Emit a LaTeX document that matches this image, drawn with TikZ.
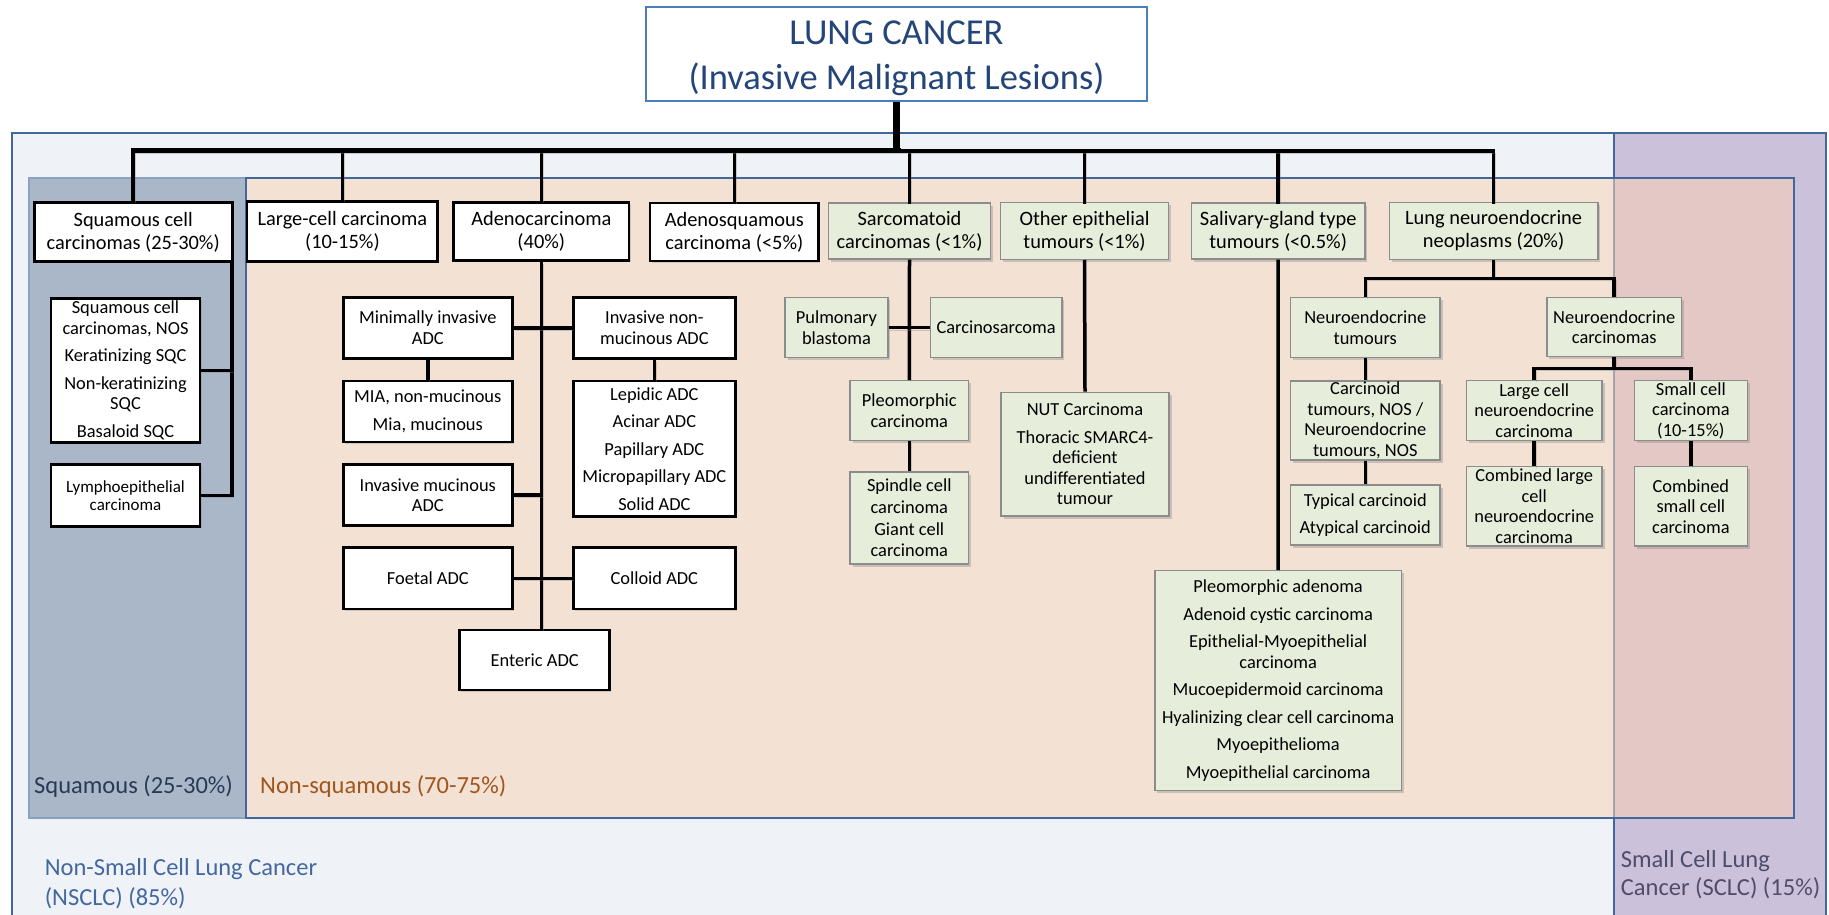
\documentclass[tikz,border=0pt]{standalone}
\usepackage{fontspec}
\setmainfont{Carlito}
\usetikzlibrary{shadows}

\definecolor{nsclcfill}{HTML}{EFF3F8}
\definecolor{regionedge}{HTML}{41689C}
\definecolor{sclcfill}{HTML}{CBC1DA}
\definecolor{sqfill}{HTML}{A9B7C8}
\definecolor{sqedge}{HTML}{8AA1BF}
\definecolor{nsqfill}{HTML}{F3E1D4}
\definecolor{overlapfill}{HTML}{E4C8C6}
\definecolor{overlapedge}{HTML}{A4A4AC}
\definecolor{boxgreen}{HTML}{E6EDDA}
\definecolor{boxgrey}{HTML}{8C8C8C}
\definecolor{titleblue}{HTML}{24457A}
\definecolor{titleedge}{HTML}{4A7EBB}
\definecolor{sqtext}{HTML}{2A3A55}
\definecolor{nsqtext}{HTML}{A0561D}
\definecolor{nscltext}{HTML}{4467A0}
\definecolor{scltext}{HTML}{504C6C}

\newcommand\txTitle{\fontsize{36.5}{45}\selectfont}
\newcommand\txTop{\fontsize{20.4}{23}\selectfont}
\newcommand\txSub{\fontsize{18.4}{20.5}\selectfont}
\newcommand\txSmall{\fontsize{17}{18.5}\selectfont}
\newcommand\txLab{\fontsize{24.5}{30}\selectfont}

\tikzset{
  sz/.style 2 args={minimum width=#1, minimum height=#2},
  wtop/.style={draw=black, line width=2.8pt, fill=white, align=center, inner sep=0pt,
    font=\txTop, drop shadow={shadow xshift=1.5pt, shadow yshift=-1.5pt, opacity=0.3}},
  wsub/.style={wtop, font=\txSub},
  gtop/.style={draw=boxgrey, line width=1.4pt, fill=boxgreen, align=center, inner sep=0pt,
    font=\txTop, drop shadow={shadow xshift=2.5pt, shadow yshift=-2.5pt, opacity=0.35}},
  gsub/.style={gtop, font=\txSub},
  lineshadow/.style={preaction={draw=black!50, opacity=0.35,
    transform canvas={xshift=1.5pt, yshift=-2pt}}},
  conn/.style={line width=3.5pt, black, lineshadow},
  region/.style={line width=2.5pt, draw=regionedge},
  lab/.style={font=\txLab, anchor=west, inner sep=0pt, align=left}
}

\begin{document}
\begin{tikzpicture}[x=1pt, y=-1pt]
\useasboundingbox (0,0) rectangle (1829,915);
\clip (0,0) rectangle (1829,915);
\fill[white] (0,0) rectangle (1829,915);

% ---- classification regions ----
\draw[region, fill=nsclcfill] (12,133) rectangle (1614,940);
\draw[region, fill=sclcfill] (1614,133) rectangle (1826,940);
\draw[fill=sqfill, draw=sqedge, line width=2pt] (29,178) rectangle (246,818);
\fill[nsqfill] (246,178) rectangle (1794,818);
\fill[overlapfill] (1614,178) rectangle (1794,818);
\draw[overlapedge, line width=2.5pt] (1614,178) -- (1614,818);
\draw[region] (246,178) rectangle (1794,818);

% ---- region labels ----
\node[lab, text=sqtext] (sqlab) at (34,787) {Squamous (25-30\%)};
\node[lab, text=nsqtext] (nsqlab) at (260,787) {Non-squamous (70-75\%)};
\node[lab, text=nscltext] (nsclab) at (44.6,884) {Non-Small Cell Lung Cancer\\(NSCLC) (85\%)};
\node[lab, text=scltext, font=\fontsize{24.5}{28}\selectfont] (sclclab) at (1620.7,875) {Small Cell Lung\\Cancer (SCLC) (15\%)};

% ---- title ----
\node[draw=titleedge, line width=2.5pt, fill=white, text=titleblue, font=\txTitle,
  align=center, inner sep=0pt, sz={501}{94}] (title) at (896.5,54)
  {\rule{0pt}{33pt}LUNG CANCER\\(Invasive Malignant Lesions)};

% ---- main categories ----
\node[wtop, sz={198}{59}]   (sq)   at (133.2,232.2) {Squamous cell\\carcinomas (25-30\%)};
\node[wtop, sz={190.7}{60}] (lcc)  at (342.4,231.7) {Large-cell carcinoma\\(10-15\%)};
\node[wtop, sz={175.5}{58}] (adc)  at (541.3,231.7) {Adenocarcinoma\\(40\%)};
\node[wtop, sz={168.5}{58}] (asq)  at (734.3,232)   {Adenosquamous\\carcinoma (<5\%)};
\node[gtop, sz={162}{56}]   (sarc) at (909.5,231)   {Sarcomatoid\\carcinomas (<1\%)};
\node[gtop, sz={167.7}{56.6}] (oth) at (1084.5,231) {Other epithelial\\tumours (<1\%)};
\node[gtop, sz={173.5}{56}] (sal)  at (1278.2,231)  {Salivary-gland type\\tumours (<0.5\%)};
\node[gtop, sz={208.6}{56.6}] (lne) at (1493.6,231) {Lung neuroendocrine\\neoplasms (20\%)};

% ---- squamous subtypes ----
\node[wsub, sz={149}{144.4}] (sqa) at (125.5,370.5)
  {Squamous cell\\carcinomas, NOS\\[7pt]Keratinizing SQC\\[7pt]Non-keratinizing\\SQC\\[7pt]Basaloid SQC};
\node[wsub, font=\txSmall, sz={149}{62.4}] (lym) at (125.5,495.5) {Lymphoepithelial\\carcinoma};

% ---- adenocarcinoma subtypes ----
\node[wsub, sz={169.2}{61}]    (mia)  at (427.8,327.8)  {Minimally invasive\\ADC};
\node[wsub, sz={161.9}{61}]    (inm)  at (654.35,327.8) {Invasive non-\\mucinous ADC};
\node[wsub, sz={169.2}{61}]    (miat) at (427.8,411.5)  {MIA, non-mucinous\\[7pt]Mia, mucinous};
\node[wsub, sz={161.9}{135.7}] (lep)  at (654.35,448.85)
  {Lepidic ADC\\[7pt]Acinar ADC\\[7pt]Papillary ADC\\[7pt]Micropapillary ADC\\[7pt]Solid ADC};
\node[wsub, sz={169.2}{61.4}]  (imu)  at (427.8,495)    {Invasive mucinous\\ADC};
\node[wsub, sz={169.2}{61.3}]  (foe)  at (427.8,578.35) {Foetal ADC};
\node[wsub, sz={161.9}{61.3}]  (col)  at (654.35,578.35) {Colloid ADC};
\node[wsub, sz={150.3}{60}]    (ent)  at (534.65,660)   {Enteric ADC};

% ---- sarcomatoid subtypes ----
\node[gsub, sz={102.9}{60}]  (pb) at (836.45,327.7) {Pulmonary\\blastoma};
\node[gsub, sz={131.4}{60}]  (cs) at (996.1,327.7)  {Carcinosarcoma};
\node[gsub, sz={118.6}{60}]  (pc) at (909.3,410.7)  {Pleomorphic\\carcinoma};
\node[gsub, font=\fontsize{18.4}{21.7}\selectfont, sz={118.6}{92}] (sp) at (909.3,518)
  {Spindle cell\\carcinoma\\Giant cell\\carcinoma};

% ---- other epithelial ----
\node[gsub, sz={168}{123.7}] (nut) at (1085,454.15)
  {NUT Carcinoma\\[7pt]Thoracic SMARC4-\\deficient\\undifferentiated\\tumour};

% ---- salivary-gland type ----
\node[gsub, sz={246.4}{220}] (sl) at (1278.1,680.7)
  {Pleomorphic adenoma\\[7pt]Adenoid cystic carcinoma\\[7pt]Epithelial-Myoepithelial\\carcinoma\\[7pt]Mucoepidermoid carcinoma\\[7pt]Hyalinizing clear cell carcinoma\\[7pt]Myoepithelioma\\[7pt]Myoepithelial carcinoma};

% ---- neuroendocrine ----
\node[gsub, sz={149.5}{60}]   (net)  at (1365.25,327.7) {Neuroendocrine\\tumours};
\node[gsub, sz={134.8}{59}]   (nec)  at (1614.2,327.2)  {Neuroendocrine\\carcinomas};
\node[gsub, sz={149.5}{79}]   (cnos) at (1365.25,420.5)
  {Carcinoid\\tumours, NOS /\\Neuroendocrine\\tumours, NOS};
\node[gsub, sz={149.5}{60}]   (typ)  at (1365.25,515)   {Typical carcinoid\\[7pt]Atypical carcinoid};
\node[gsub, sz={135.8}{60.4}] (lcn)  at (1534.2,410.5)  {Large cell\\neuroendocrine\\carcinoma};
\node[gsub, sz={113.1}{60.4}] (scc)  at (1690.85,410.5) {Small cell\\carcinoma\\(10-15\%)};
\node[gsub, sz={135.8}{79.3}] (clc)  at (1534.2,506.35)
  {Combined large\\cell\\neuroendocrine\\carcinoma};
\node[gsub, sz={113.1}{79.3}] (csc)  at (1690.85,506.35) {Combined\\small cell\\carcinoma};

% ---- top-level tree ----
\coordinate (bus) at (898,151);
\draw[conn, line width=7pt] (title.south) -- (title.south |- bus);
\foreach \n in {sq,lcc,adc,asq,sarc,oth,sal,lne}
  \draw[conn, line cap=rect] (\n.north) -- (\n.north |- bus);
\draw[conn, line width=5pt, line cap=rect] (sq.north |- bus) -- (bus);
\draw[conn, line width=3.5pt, line cap=rect] (bus) -- (lne.north |- bus);

% ---- squamous connectors ----
\coordinate (sqdrop) at ([xshift=-1.5pt]sq.south east);
\draw[conn] (sqdrop) |- (lym.east);
\draw[conn] (sqa.east) -- (sqa.east -| sqdrop);

% ---- adenocarcinoma connectors ----
\draw[conn] (adc.south) -- (adc.south |- ent.north);
\draw[conn] (mia.east) -- (inm.west);
\draw[conn] (imu.east) -- (imu.east -| adc.south);
\draw[conn] (foe.east) -- (col.west);
\draw[conn] (mia.south) -- (miat.north);
\draw[conn] (inm.south) -- (lep.north);

% ---- sarcomatoid connectors ----
\draw[conn] (sarc.south) -- (pc.north);
\draw[conn] (pb.east) -- (cs.west);
\draw[conn] (pc.south) -- (sp.north);

% ---- other epithelial and salivary connectors ----
\draw[conn] (oth.south) -- (nut.north);
\draw[conn] (sal.south) -- (sl.north);

% ---- neuroendocrine connectors ----
\coordinate (nebus) at (1494,278.3);
\coordinate (necbus) at (1614,368.3);
\draw[conn] (lne.south) -- (lne.south |- nebus);
\draw[conn, line join=miter] (net.north) |- (nebus) -| (nec.north);
\draw[conn] (nec.south) -- (nec.south |- necbus);
\draw[conn, line join=miter] (lcn.north) |- (necbus) -| (scc.north);
\draw[conn] (net.south) -- (cnos.north);
\draw[conn] (cnos.south) -- (typ.north);
\draw[conn] (lcn.south) -- (clc.north);
\draw[conn] (scc.south) -- (csc.north);
\end{tikzpicture}
\end{document}
